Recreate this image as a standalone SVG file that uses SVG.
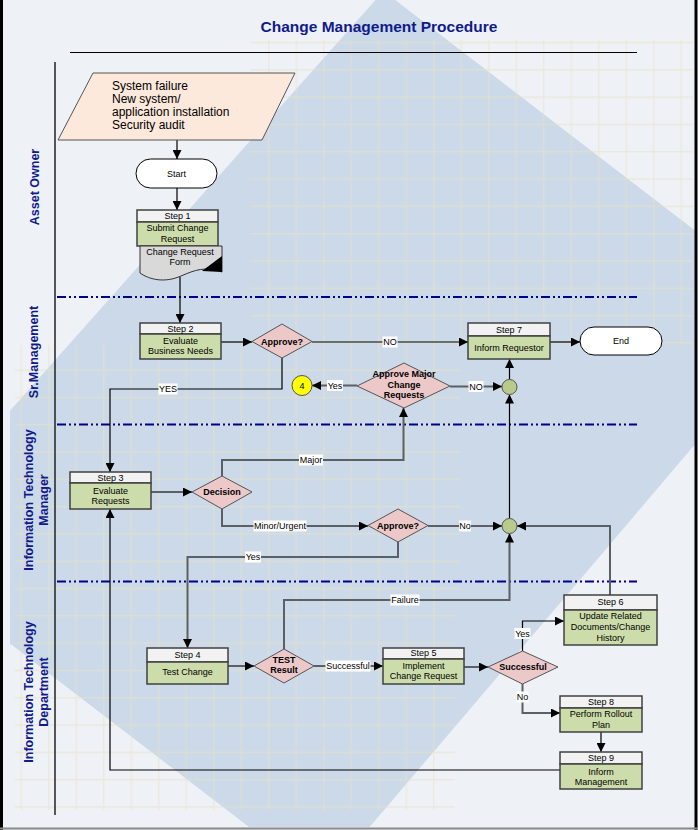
<svg xmlns="http://www.w3.org/2000/svg" width="698" height="830" viewBox="0 0 698 830">
<style>
text{font-family:"Liberation Sans",Arial,sans-serif;fill:#000}
.t9{font-size:9px;text-anchor:middle}
.b9{font-size:9px;font-weight:bold;text-anchor:middle}
.lane{font-size:12.5px;font-weight:bold;fill:#101a8c;text-anchor:middle;dominant-baseline:central}
.hd{fill:#f2f2f2;stroke:#404040;stroke-width:1.5}
.bd{fill:#cddcab;stroke:#404040;stroke-width:1.5}
.dia{fill:#ecc8c8;stroke:#555;stroke-width:1}
.term{fill:#fff;stroke:#000;stroke-width:1}
.cb{fill:none;stroke:#000;stroke-width:1.2;marker-end:url(#ah)}
.cg{fill:none;stroke:#5b6067;stroke-width:2;marker-end:url(#ah)}
.lbl{fill:#fff}
.swim{stroke:#00008b;stroke-width:2;stroke-dasharray:9 3 2 3 2 3;fill:none}
</style>
<defs>
<marker id="ah" viewBox="0 0 10 10" refX="10" refY="5" markerWidth="9" markerHeight="9" markerUnits="userSpaceOnUse" orient="auto"><path d="M0,0 L10,5 L0,10 z" fill="#000"/></marker>
<pattern id="grid" patternUnits="userSpaceOnUse" x="20.5" y="14.5" width="27.5" height="27.3"><path d="M0.75,0 V27.3 M0,0.75 H27.5" stroke="#e9e2c4" stroke-width="1.3" fill="none"/></pattern>
<clipPath id="bgclip"><rect x="10" y="0" width="685" height="827"/></clipPath>
</defs>

<g id="background">
<rect x="0" y="0" width="698" height="830" fill="#eef1f6"/>
<polygon clip-path="url(#bgclip)" points="383.5,-9 805,315 322,883 -113,549" fill="#cbd9e8"/>
<rect x="250" y="40" width="443" height="305" fill="url(#grid)" opacity="0.55"/>
<rect x="15" y="345" width="445" height="255" fill="url(#grid)" opacity="0.55"/>
<rect x="15" y="600" width="440" height="210" fill="url(#grid)" opacity="0.55"/>
<line x1="1.5" y1="0" x2="1.5" y2="830" stroke="#000" stroke-width="3"/>
<line x1="696" y1="0" x2="696" y2="830" stroke="#000" stroke-width="3"/>
<line x1="0" y1="828.5" x2="698" y2="828.5" stroke="#8a8a8a" stroke-width="2"/>
</g>

<g id="title">
<text x="379" y="32" style="font-size:15.5px;font-weight:bold;fill:#101a8c;text-anchor:middle">Change Management Procedure</text>
<line x1="70" y1="52.5" x2="637" y2="52.5" stroke="#000" stroke-width="1.2"/>
</g>

<g id="lanes">
<line x1="55" y1="62" x2="55" y2="815" stroke="#222" stroke-width="1.5"/>
<line class="swim" x1="57" y1="297" x2="637" y2="297"/>
<line class="swim" x1="57" y1="424.5" x2="637" y2="424.5"/>
<line class="swim" x1="57" y1="581.5" x2="637" y2="581.5"/>
<text class="lane" transform="rotate(-90 35 187)" x="35" y="187">Asset Owner</text>
<text class="lane" transform="rotate(-90 34 352)" x="34" y="352">Sr.Management</text>
<text class="lane" transform="rotate(-90 36 500)" x="36" y="500"><tspan x="36" dy="-7.5">Information Technology</tspan><tspan x="36" dy="15">Manager</tspan></text>
<text class="lane" transform="rotate(-90 36 692)" x="36" y="692"><tspan x="36" dy="-7.5">Information Technology</tspan><tspan x="36" dy="15">Department</tspan></text>
</g>

<g id="connectors">
<path class="cb" d="M177,140 V159"/>
<path class="cb" d="M177,188 V210"/>
<path class="cb" d="M180,277 V323"/>
<path class="cb" d="M221,342 H252"/>
<path class="cb" d="M312,342 H468"/>
<path class="cb" d="M282,358 V389 H110 V472"/>
<path class="cb" d="M550,342 H580"/>
<path class="cg" d="M357,385.5 H312"/>
<path class="cg" d="M450,386.5 H502"/>
<path class="cb" d="M509.5,379.5 V359"/>
<path class="cb" d="M509.5,518.5 V394.5"/>
<path class="cg" d="M151,492 H192"/>
<path class="cg" d="M222,476 V460 H403.5 V408"/>
<path class="cg" d="M222,509 V526 H368"/>
<path class="cg" d="M428,526 H502"/>
<path class="cg" d="M398,542 V557 H187.5 V648"/>
<path class="cg" d="M610,595 V526 H517"/>
<path class="cg" d="M284,649 V600 H509.5 V533.5"/>
<path class="cg" d="M228,666 H254"/>
<path class="cg" d="M314,666 H383"/>
<path class="cg" d="M464,667 H488"/>
<path class="cb" d="M522.5,651 V621 H564"/>
<path class="cg" d="M522.5,684 V713 H560"/>
<path class="cg" d="M601,732 V752"/>
<path class="cb" d="M560,770 H110 V509"/>
<rect class="lbl" x="382.5" y="336.5" width="15" height="11"/><text class="t9" x="390" y="345.2">NO</text>
<rect class="lbl" x="158.5" y="383.5" width="19" height="11"/><text class="t9" x="168" y="392.2">YES</text>
<rect class="lbl" x="327" y="380" width="16" height="11"/><text class="t9" x="335" y="388.7">Yes</text>
<rect class="lbl" x="468.5" y="381" width="15" height="11"/><text class="t9" x="476" y="389.7">NO</text>
<rect class="lbl" x="299" y="454.5" width="24" height="11"/><text class="t9" x="311" y="463.2">Major</text>
<rect class="lbl" x="253.5" y="520.5" width="53" height="11"/><text class="t9" x="280" y="529.2">Minor/Urgent</text>
<rect class="lbl" x="459" y="520.5" width="12" height="11"/><text class="t9" x="465" y="529.2">No</text>
<rect class="lbl" x="245" y="551.5" width="16" height="11"/><text class="t9" x="253" y="560.2">Yes</text>
<rect class="lbl" x="390.5" y="594.5" width="29" height="11"/><text class="t9" x="405" y="603.2">Failure</text>
<rect class="lbl" x="325.5" y="660.5" width="45" height="11"/><text class="t9" x="348" y="669.2">Successful</text>
<rect class="lbl" x="514.5" y="628" width="16" height="11"/><text class="t9" x="522.5" y="636.7">Yes</text>
<rect class="lbl" x="516.5" y="691.5" width="12" height="11"/><text class="t9" x="522.5" y="700.2">No</text>
</g>

<g id="trigger">
<polygon points="93,73 295,73 262,140 58,140" fill="#fce9dc" stroke="#555" stroke-width="1"/>
<text x="112" y="90" style="font-size:12px">System failure</text>
<text x="112" y="103" style="font-size:12px">New system/</text>
<text x="112" y="116" style="font-size:12px">application installation</text>
<text x="112" y="128.5" style="font-size:12px">Security audit</text>
</g>

<g id="start">
<rect class="term" x="136" y="159" width="81" height="29" rx="14.5"/>
<text class="t9" x="176.5" y="176.5">Start</text>
</g>

<g id="step1">
<rect class="hd" x="137" y="210" width="81" height="12"/>
<rect class="bd" x="137" y="222" width="81" height="24"/>
<text class="t9" x="177.5" y="219.3">Step 1</text>
<text class="t9" x="177.5" y="231">Submit Change</text>
<text class="t9" x="177.5" y="241.5">Request</text>
</g>

<g id="form">
<path d="M140,246 H222 V272 C205,266 195,270 181,276 C165,283 150,280 140,273 Z" fill="#d9d9d9" stroke="#333" stroke-width="1"/>
<path d="M202,271 L222,256 L222,272 Z" fill="#000"/>
<text class="t9" x="180" y="255.3">Change Request</text>
<text class="t9" x="180" y="265.3">Form</text>
</g>

<g id="step2">
<rect class="hd" x="140" y="323" width="81" height="11"/>
<rect class="bd" x="140" y="334" width="81" height="25"/>
<text class="t9" x="180.5" y="331.8">Step 2</text>
<text class="t9" x="180.5" y="344">Evaluate</text>
<text class="t9" x="180.5" y="354">Business Needs</text>
</g>

<g id="approve1">
<polygon class="dia" points="282,324 312,341.5 282,358 252,341.5"/>
<text class="b9" x="282" y="344.7">Approve?</text>
</g>

<g id="step7">
<rect class="hd" x="468" y="323" width="82" height="13"/>
<rect class="bd" x="468" y="336" width="82" height="23"/>
<text class="t9" x="509" y="332.5">Step 7</text>
<text class="t9" x="509" y="350.5">Inform Requestor</text>
</g>

<g id="end">
<rect class="term" x="580" y="327" width="82" height="28" rx="14"/>
<text class="t9" x="621" y="344.2">End</text>
</g>

<g id="approveMajor">
<polygon class="dia" points="404,363 450,386 404,408 357,386"/>
<text class="b9" x="404" y="377.3">Approve Major</text>
<text class="b9" x="404" y="387.9">Change</text>
<text class="b9" x="404" y="397.9">Requests</text>
</g>

<g id="connector4">
<circle cx="302" cy="385.5" r="10" fill="#ffff00" stroke="#555" stroke-width="1"/>
<text class="t9" x="302" y="388.7">4</text>
</g>

<g id="join1">
<circle cx="509.5" cy="387" r="7.5" fill="#b8cb8c" stroke="#555" stroke-width="1"/>
</g>

<g id="step3">
<rect class="hd" x="70" y="472" width="81" height="11"/>
<rect class="bd" x="70" y="483" width="81" height="26"/>
<text class="t9" x="110.5" y="481">Step 3</text>
<text class="t9" x="110.5" y="494">Evaluate</text>
<text class="t9" x="110.5" y="504">Requests</text>
</g>

<g id="decision">
<polygon class="dia" points="222,476 252,492 222,509 192,492"/>
<text class="b9" x="222" y="495.2">Decision</text>
</g>

<g id="approve2">
<polygon class="dia" points="398,509 428,525.5 398,542 368,525.5"/>
<text class="b9" x="398" y="528.7">Approve?</text>
</g>

<g id="join2">
<circle cx="509.5" cy="526" r="7.5" fill="#b8cb8c" stroke="#555" stroke-width="1"/>
</g>

<g id="step4">
<rect class="hd" x="147" y="648" width="81" height="14"/>
<rect class="bd" x="147" y="662" width="81" height="22"/>
<text class="t9" x="187.5" y="657.5">Step 4</text>
<text class="t9" x="187.5" y="675">Test Change</text>
</g>

<g id="testResult">
<polygon class="dia" points="284,649 314,666 284,683 254,666"/>
<text class="b9" x="284" y="663.2">TEST</text>
<text class="b9" x="284" y="672.5">Result</text>
</g>

<g id="step5">
<rect class="hd" x="383" y="648" width="81" height="11"/>
<rect class="bd" x="383" y="659" width="81" height="25"/>
<text class="t9" x="423.5" y="656.2">Step 5</text>
<text class="t9" x="423.5" y="669">Implement</text>
<text class="t9" x="423.5" y="679.3">Change Request</text>
</g>

<g id="successful">
<polygon class="dia" points="522.5,651 558,667 522.5,684 488,667"/>
<text class="b9" x="523" y="670.3">Successful</text>
</g>

<g id="step6">
<rect class="hd" x="564" y="595" width="93" height="15"/>
<rect class="bd" x="564" y="610" width="93" height="35"/>
<text class="t9" x="610.5" y="604.7">Step 6</text>
<text class="t9" x="610.5" y="619.3">Update Related</text>
<text class="t9" x="610.5" y="630.3">Documents/Change</text>
<text class="t9" x="610.5" y="640.5">History</text>
</g>

<g id="step8">
<rect class="hd" x="560" y="696" width="82" height="12"/>
<rect class="bd" x="560" y="708" width="82" height="24"/>
<text class="t9" x="601" y="705.3">Step 8</text>
<text class="t9" x="601" y="716.8">Perform Rollout</text>
<text class="t9" x="601" y="727.5">Plan</text>
</g>

<g id="step9">
<rect class="hd" x="560" y="752" width="82" height="12"/>
<rect class="bd" x="560" y="764" width="82" height="25"/>
<text class="t9" x="601" y="761.3">Step 9</text>
<text class="t9" x="601" y="774.5">Inform</text>
<text class="t9" x="601" y="785">Management</text>
</g>
</svg>
